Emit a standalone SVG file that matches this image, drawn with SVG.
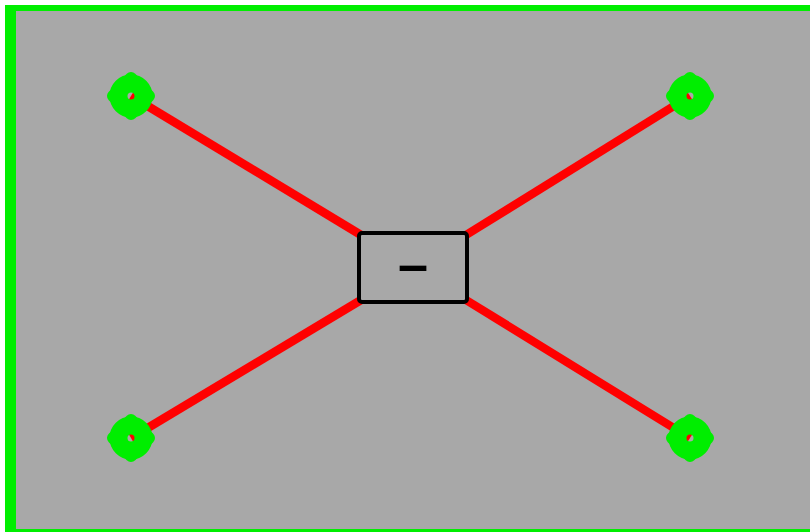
<svg xmlns="http://www.w3.org/2000/svg" width="810" height="532" viewBox="0 0 810 532">
<style>
.edge{stroke:#ff0000;stroke-width:8.5;stroke-linecap:butt}
.mk{fill:none;stroke:#00ee00;stroke-width:12;stroke-linejoin:round}
.mkc{fill:none;stroke:#00ee00;stroke-width:18}
.box{fill:#a8a8a8;stroke:#000;stroke-width:4}
</style>
<defs>
<g id="marker">
<polygon class="mk" points="0,-18 18,0 0,18 -18,0"/>
<circle class="mkc" r="12.5"/>
</g>
</defs>
<rect x="0" y="0" width="810" height="532" fill="#ffffff"/>
<rect x="5" y="5" width="805" height="527" fill="#00ee00"/>
<rect x="16" y="11" width="794" height="518" fill="#a8a8a8"/>
<g id="connectors">
<line class="edge" x1="131" y1="96" x2="361" y2="235"/>
<line class="edge" x1="690" y1="96" x2="466" y2="235"/>
<line class="edge" x1="131" y1="438" x2="361" y2="300"/>
<line class="edge" x1="690" y1="438" x2="466" y2="300"/>
</g>
<g id="node-tl"><use href="#marker" x="131" y="96"/></g>
<g id="node-tr"><use href="#marker" x="690" y="96"/></g>
<g id="node-bl"><use href="#marker" x="131" y="438"/></g>
<g id="node-br"><use href="#marker" x="690" y="438"/></g>
<g id="node-center">
<rect class="box" x="359" y="233" width="108" height="69" rx="3"/>
<text x="413" y="283" font-family="Liberation Sans, Arial, sans-serif" font-size="54" font-weight="bold" text-anchor="middle" fill="#000">–</text>
</g>
</svg>
